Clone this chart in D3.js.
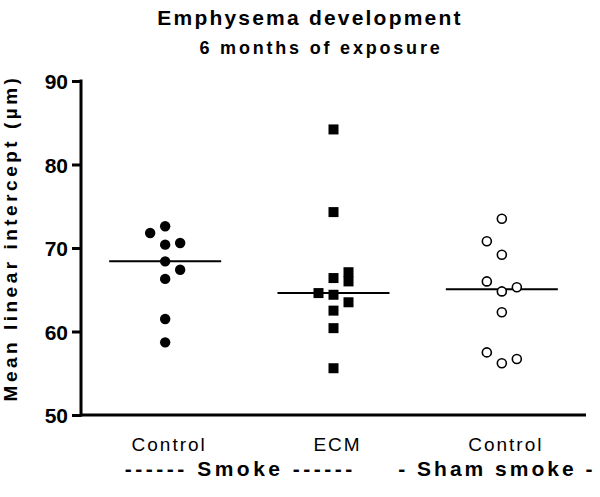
<!DOCTYPE html>
<html>
<head>
<meta charset="utf-8">
<script src="https://cdn.jsdelivr.net/npm/d3@7/dist/d3.min.js"></script>
<style>
  html, body { margin: 0; padding: 0; background: #fff; }
  svg { display: block; font-family: "Liberation Sans", Arial, sans-serif; }
</style>
</head>
<body>
<svg id="chart" width="600" height="497"></svg>
<script>
// ---- Data ----
const groupKeys = ["smokeControl", "smokeECM", "shamControl"];
const xLabels = ["Control", "ECM", "Control"];
const groupLabels = ["------ Smoke ------", "- Sham smoke -"];
const yTicks = [50, 60, 70, 80, 90];

const smokeControlValues = [72.6, 71.8, 70.6, 70.4, 68.4, 67.4, 66.3, 61.5, 58.7];
const smokeControlSlots  = [0, -1, 1, 0, 0, 1, 0, 0, 0];

const smokeECMValues = [84.2, 74.3, 67.1, 66.4, 66.0, 64.6, 64.4, 63.5, 62.5, 60.4, 55.6];
const smokeECMSlots  = [0, 0, 1, 0, 1, -1, 0, 1, 0, 0, 0];

const shamControlValues = [73.5, 70.8, 69.2, 66.0, 65.3, 64.8, 62.3, 57.5, 56.7, 56.2];
const shamControlSlots  = [0, -1, 0, -1, 1, 0, 0, -1, 1, 0];

const title = "Emphysema development";
const subtitle = "6 months of exposure";
const yTitle = "Mean linear intercept (µm)";

// ---- Build ----
const groups = [
  { key: groupKeys[0], values: smokeControlValues, slots: smokeControlSlots, symbol: "filledCircle" },
  { key: groupKeys[1], values: smokeECMValues, slots: smokeECMSlots, symbol: "square" },
  { key: groupKeys[2], values: shamControlValues, slots: shamControlSlots, symbol: "openCircle" }
];

const svg = d3.select("#chart");
const plotLeft = 81, plotRight = 586, plotTop = 81, plotBottom = 415;

const x = d3.scaleBand().domain(groupKeys).range([plotLeft, plotRight]).padding(0);
const y = d3.scaleLinear().domain([50, 90]).range([plotBottom, plotTop]);
const cx = k => x(k) + x.bandwidth() / 2;
const jitter = 15;

// Title
svg.append("text").attr("x", 310).attr("y", 25).attr("text-anchor", "middle")
  .attr("font-size", 21).attr("font-weight", "bold").attr("letter-spacing", 2.2)
  .text(title);
svg.append("text").attr("x", 321).attr("y", 54).attr("text-anchor", "middle")
  .attr("font-size", 18).attr("font-weight", "bold").attr("letter-spacing", 2.8)
  .text(subtitle);

// Y axis
const yAxis = svg.append("g").attr("transform", `translate(${plotLeft},0)`)
  .call(d3.axisLeft(y).tickValues(yTicks).tickSize(9).tickPadding(4).tickFormat(d3.format("d")));
yAxis.select(".domain").remove();
yAxis.selectAll(".tick line").attr("stroke", "#000").attr("stroke-width", 3);
yAxis.selectAll(".tick text").attr("font-family", "Liberation Sans, Arial, sans-serif")
  .attr("font-size", 21).attr("font-weight", "bold").attr("fill", "#000").attr("dy", "0.36em");

svg.append("line").attr("x1", plotLeft).attr("x2", plotLeft)
  .attr("y1", plotTop - 1.5).attr("y2", plotBottom + 1.5)
  .attr("stroke", "#000").attr("stroke-width", 3);
svg.append("line").attr("x1", plotLeft).attr("x2", plotRight)
  .attr("y1", plotBottom).attr("y2", plotBottom)
  .attr("stroke", "#000").attr("stroke-width", 3);

// Y title
svg.append("text").attr("transform", `translate(17,${238}) rotate(-90)`)
  .attr("text-anchor", "middle").attr("font-size", 19).attr("font-weight", "bold")
  .attr("letter-spacing", 3.5).text(yTitle);

// X labels
svg.selectAll(".xlab").data(groupKeys).enter().append("text")
  .attr("class", "xlab")
  .attr("x", (d) => cx(d) + 4).attr("y", 451).attr("text-anchor", "middle")
  .attr("font-size", 19).attr("letter-spacing", 2)
  .text((d, i) => xLabels[i]);

// Group labels
svg.append("text").attr("x", (cx(groupKeys[0]) + cx(groupKeys[1])) / 2 - 9).attr("y", 476)
  .attr("text-anchor", "middle").attr("font-size", 21).attr("font-weight", "bold")
  .attr("letter-spacing", 3.5).text(groupLabels[0]);
svg.append("text").attr("x", cx(groupKeys[2]) - 5).attr("y", 476)
  .attr("text-anchor", "middle").attr("font-size", 21).attr("font-weight", "bold")
  .attr("letter-spacing", 3).text(groupLabels[1]);

// Median lines
svg.selectAll(".median").data(groups).enter().append("line")
  .attr("class", "median")
  .attr("x1", d => cx(d.key) - 56).attr("x2", d => cx(d.key) + 56)
  .attr("y1", d => y(d3.median(d.values))).attr("y2", d => y(d3.median(d.values)))
  .attr("stroke", "#000").attr("stroke-width", 2);

// Points
groups.forEach(g => {
  const pts = g.values.map((v, i) => ({ v, s: g.slots[i] }));
  const sel = svg.append("g").selectAll("path").data(pts).enter();
  if (g.symbol === "square") {
    sel.append("rect")
      .attr("x", d => cx(g.key) + d.s * jitter - 5)
      .attr("y", d => y(d.v) - 5)
      .attr("width", 10).attr("height", 10).attr("fill", "#000");
  } else if (g.symbol === "filledCircle") {
    sel.append("circle")
      .attr("cx", d => cx(g.key) + d.s * jitter)
      .attr("cy", d => y(d.v)).attr("r", 5.2).attr("fill", "#000");
  } else {
    sel.append("circle")
      .attr("cx", d => cx(g.key) + d.s * jitter)
      .attr("cy", d => y(d.v)).attr("r", 4.5)
      .attr("fill", "#fff").attr("stroke", "#000").attr("stroke-width", 1.6);
  }
});
</script>
</body>
</html>
